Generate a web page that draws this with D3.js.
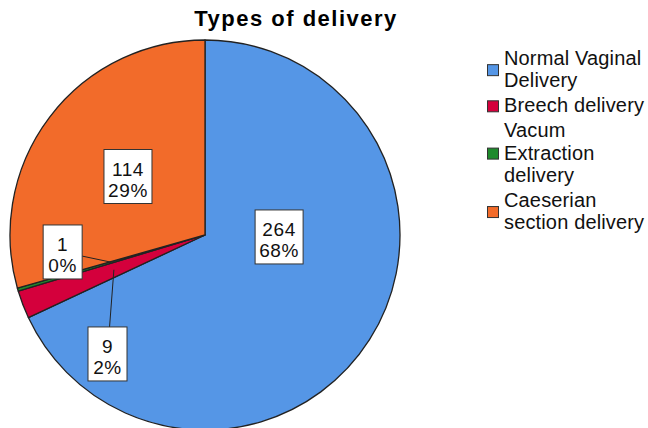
<!DOCTYPE html>
<html>
<head>
<meta charset="utf-8">
<script src="https://cdn.jsdelivr.net/npm/d3@7"></script>
<style>
  body { margin: 0; background: #fff; }
  svg { display: block; font-family: "Liberation Sans", Arial, sans-serif; }
</style>
</head>
<body>
<div id="chart"></div>
<script>
// data
var categories = ['Normal Vaginal Delivery', 'Breech delivery',
  'Vacum Extraction delivery', 'Caeserian section delivery'];
var counts = [264, 9, 1, 114];
var legendLines = [['Normal Vaginal', 'Delivery'], ['Breech delivery'],
  ['Vacum', 'Extraction', 'delivery'], ['Caeserian', 'section delivery']];
var colors = ['#5596e6', '#d4003c', '#1e8a2c', '#f26b2a'];

// where each value label sits, as fraction of the radius (from centre)
var labelPlace = [[0.38, 0.01], [-0.5, 0.61], [-0.73, 0.087], [-0.395, -0.3]];

var width = 648, height = 428;
var cx = 205, cy = 235, radius = 195;

var svg = d3.select('#chart').append('svg')
  .attr('width', width)
  .attr('height', height);

svg.append('rect').attr('width', width).attr('height', height).attr('fill', '#fff');

// title
svg.append('text')
  .attr('x', 296)
  .attr('y', 26)
  .attr('text-anchor', 'middle')
  .attr('font-size', 22)
  .attr('font-weight', 'bold')
  .attr('letter-spacing', 1.5)
  .text('Types of delivery');

var total = d3.sum(counts);
var data = counts.map(function (v, i) {
  return { name: categories[i], value: v, idx: i };
});

var pie = d3.pie().sort(null).value(function (d) { return d.value; });
var arc = d3.arc().innerRadius(0).outerRadius(radius);
var arcs = pie(data);

var g = svg.append('g').attr('transform', 'translate(' + cx + ',' + cy + ')');

g.selectAll('path.slice')
  .data(arcs)
  .enter().append('path')
  .attr('class', 'slice')
  .attr('d', arc)
  .attr('fill', function (d) { return colors[d.data.idx]; })
  .attr('stroke', '#222')
  .attr('stroke-width', 1.3)
  .attr('stroke-linejoin', 'round');

// value labels
var boxW = 48, boxH = 54;
arcs.forEach(function (d) {
  var p = labelPlace[d.data.idx];
  var lx = p[0] * radius, ly = p[1] * radius;
  var pct = Math.round(d.data.value / total * 100) + '%';
  var lines = [String(d.data.value), pct];
  var bw = d.data.value < 10 ? 39 : boxW;

  // leader line for the slim slices
  if ((d.endAngle - d.startAngle) < 0.3) {
    var c = arc.centroid(d);
    var dx = c[0] - lx, dy = c[1] - ly;
    var t = Math.min(Math.abs((bw / 2) / dx), Math.abs((boxH / 2) / dy));
    g.append('line')
      .attr('x1', lx + dx * t).attr('y1', ly + dy * t)
      .attr('x2', c[0]).attr('y2', c[1])
      .attr('stroke', '#222').attr('stroke-width', 1);
  }

  g.append('rect')
    .attr('x', lx - bw / 2)
    .attr('y', ly - boxH / 2)
    .attr('width', bw)
    .attr('height', boxH)
    .attr('fill', '#fff')
    .attr('stroke', '#333')
    .attr('stroke-width', 1);

  g.append('text')
    .attr('text-anchor', 'middle')
    .attr('font-size', 19)
    .attr('letter-spacing', 0.6)
    .attr('fill', '#111')
    .selectAll('tspan')
    .data(lines)
    .enter().append('tspan')
    .attr('x', lx)
    .attr('y', function (s, i) { return ly - 1 + i * 21; })
    .text(function (s) { return s; });
});

// legend
var legend = svg.append('g').attr('class', 'legend');
var baseY = 65, lineH = 22.3, itemGap = 25;
legendLines.forEach(function (lines, i) {
  var first = baseY;
  var last = first + (lines.length - 1) * lineH;
  var sy = (first + last) / 2 - 6;
  legend.append('rect')
    .attr('x', 487.5)
    .attr('y', sy - 5.5)
    .attr('width', 11)
    .attr('height', 11)
    .attr('fill', colors[i])
    .attr('stroke', '#333')
    .attr('stroke-width', 1);
  var t = legend.append('text')
    .attr('font-size', 20)
    .attr('letter-spacing', 0.15)
    .attr('fill', '#111');
  lines.forEach(function (s, j) {
    t.append('tspan')
      .attr('x', 504)
      .attr('y', first + j * lineH)
      .text(s);
  });
  baseY = last + itemGap;
});
</script>
</body>
</html>
